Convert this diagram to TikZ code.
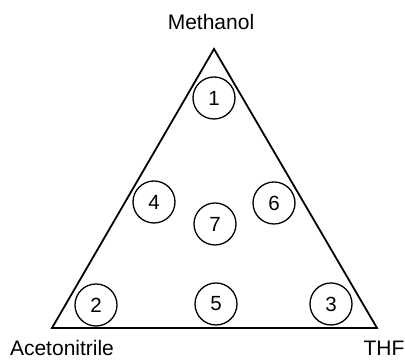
\documentclass[tikz,border=0pt]{standalone}
\usepackage{fontspec}
\setmainfont{Liberation Sans}
\usepackage{tikz}
\usetikzlibrary{positioning}

\begin{document}
\begin{tikzpicture}[
        x=1pt, y=1pt,
        corner/.style={font=\fontsize{21}{24}\selectfont, inner sep=0pt},
        sample/.style={draw, circle, line width=1.3pt, minimum size=42pt, inner sep=0pt, font=\fontsize{20.5}{24}\selectfont},
        edge/.style={line width=1.8pt, line join=miter}
    ]
    \useasboundingbox (0,0) rectangle (405,363);

    % === Corners of the solvent triangle ===
    \coordinate (meoh) at (214,314);
    \coordinate (acn) at (52,35);
    \coordinate (thf) at (377,35);
    \draw[edge] (meoh) -- (acn) -- (thf) -- cycle;

    % Solvent labels
    \node[corner] (meohlabel) at (211,341) {Methanol};
    \node[corner] (acnlabel) at (62,15) {Acetonitrile};
    \node[corner] (thflabel) at (384,15) {THF};

    % === Mixture points ===
    \node[sample] (s1) at (214,265) {1};
    \node[sample] (s4) at (154,161) {4};
    \node[sample] (s7) at (215,139) {7};
    \node[sample] (s6) at (274,160) {6};
    \node[sample] (s2) at (96,58) {2};
    \node[sample] (s5) at (216,59) {5};
    \node[sample] (s3) at (331,59) {3};

\end{tikzpicture}
\end{document}
